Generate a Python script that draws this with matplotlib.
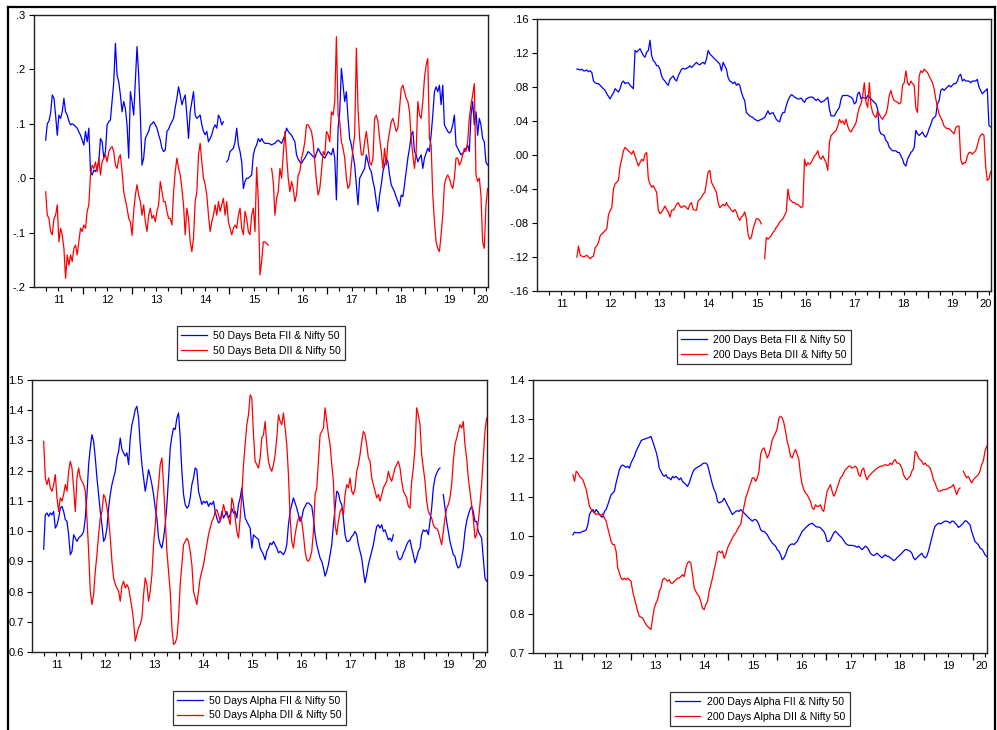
import numpy as np
import matplotlib
matplotlib.use("Agg")
import matplotlib.pyplot as plt
from matplotlib.lines import Line2D

plt.rcParams['font.family'] = ['Liberation Sans', 'DejaVu Sans']

nan = np.nan

# ---- time sampling of the rolling-window series (decimal years, ~12 day spacing)
t50_start = 2011.238
t200_start = 2011.816
t_step = 0.034

# ---- 50 days beta
fii_beta50 = [
    0.07, 0.10, 0.105, 0.12, 0.153, 0.147, 0.116, 0.079, 0.116, 0.11, 0.122, 0.147, 0.122, 0.116, 0.105, 0.098,
    0.10, 0.098, 0.095, 0.092, 0.085, 0.079, 0.07, 0.061, 0.086, 0.067, 0.092, 0.012, 0.006, 0.015, 0.012, 0.02,
    0.03, 0.073, 0.067, 0.037, 0.049, 0.098, 0.104, 0.107, 0.141, 0.177, 0.248, 0.19, 0.177, 0.153, 0.122, 0.141,
    0.128, 0.098, 0.037, 0.159, 0.141, 0.116, 0.177, 0.242, 0.19, 0.116, 0.024, 0.037, 0.073, 0.08, 0.086, 0.098,
    0.10, 0.104, 0.098, 0.092, 0.08, 0.07, 0.055, 0.049, 0.052, 0.086, 0.09, 0.098, 0.104, 0.11, 0.13, 0.147,
    0.168, 0.153, 0.135, 0.145, 0.153, 0.116, 0.073, 0.122, 0.14, 0.159, 0.116, 0.11, 0.113, 0.116, 0.098, 0.086,
    0.08, 0.086, 0.067, 0.073, 0.08, 0.092, 0.098, 0.092, 0.116, 0.11, 0.098, 0.104, nan, 0.03, 0.035, 0.049,
    0.052, 0.055, 0.067, 0.092, 0.061, 0.049, 0.03, -0.019, -0.006, 0.0, 0.0, 0.003, 0.006, 0.043, 0.055, 0.061,
    0.073,
    0.067, 0.073, 0.067, 0.064, 0.064, 0.064, 0.063, 0.061, 0.063, 0.064, 0.068, 0.07, 0.067, 0.064, 0.072, 0.079,
    0.092, 0.086, 0.082, 0.079, 0.073, 0.067, 0.043, 0.035, 0.03, 0.027, 0.033, 0.037, 0.043, 0.049, 0.046, 0.043,
    0.04, 0.037, 0.046, 0.055, 0.049, 0.043, 0.04, 0.037, 0.043, 0.049, 0.046, 0.043, 0.055, 0.037, -0.04, 0.092,
    0.122, 0.202, 0.171, 0.141, 0.159, 0.11, 0.073, 0.061, 0.043, 0.024, -0.012, -0.049, 0.0, 0.006, 0.012, 0.018,
    0.043, 0.03, 0.018, 0.012, -0.006, -0.019, -0.043, -0.061, -0.031, -0.012, 0.012, 0.024, 0.037, 0.03, 0.006, -0.012,
    -0.019, -0.025, -0.035, -0.043, -0.052, -0.031, -0.034, -0.012, 0.012, 0.037, 0.055, 0.079, 0.086, 0.049, 0.043, 0.03,
    0.037, 0.043, 0.018, 0.037, 0.046, 0.055, 0.049, 0.079, 0.116, 0.159, 0.168, 0.159, 0.171, 0.135, 0.171, 0.098,
    0.092, 0.086, 0.083, 0.086, 0.098, 0.116, 0.061, 0.055, 0.049, 0.043, 0.046, 0.049, 0.055, 0.061, 0.049, 0.116,
    0.141, 0.098, 0.122, 0.079, 0.11, 0.098, 0.073, 0.067, 0.03, 0.024,
]
dii_beta50 = [
    -0.025, -0.068, -0.074, -0.098, -0.104, -0.074, -0.068, -0.049, -0.117, -0.092, -0.104, -0.129, -0.184, -0.141, -0.16, -0.141,
    -0.153, -0.129, -0.123, -0.141, -0.117, -0.092, -0.098, -0.086, -0.092, -0.061, -0.049, 0.006, 0.024, 0.018, 0.03, 0.012,
    0.037, 0.006, 0.03, 0.037, 0.043, 0.03, 0.049, 0.055, 0.058, 0.049, 0.024, 0.018, 0.037, 0.043, 0.012, -0.025,
    -0.04, -0.055, -0.074, -0.08, -0.105, -0.061, -0.031, -0.012, -0.031, -0.043, -0.068, -0.049, -0.08, -0.098, -0.068, -0.055,
    -0.074, -0.068, -0.08, -0.061, -0.049, -0.006, -0.025, -0.043, -0.043, -0.061, -0.074, -0.074, -0.086, -0.025, 0.012, 0.037,
    0.018, 0.006, -0.019, -0.049, -0.104, -0.055, -0.074, -0.117, -0.135, -0.11, -0.043, -0.025, 0.043, 0.064, 0.03, 0.0,
    -0.012, -0.031, -0.068, -0.098, -0.08, -0.068, -0.049, -0.068, -0.043, -0.061, -0.049, -0.037, -0.068, -0.043, -0.08, -0.092,
    -0.104, -0.092, -0.086, -0.092, -0.068, -0.055, -0.092, -0.104, -0.061, -0.074, -0.098, -0.104, -0.068, -0.055, -0.098, 0.02,
    -0.04,
    -0.178, -0.153, -0.117, -0.117, -0.12, -0.123, nan, 0.018, -0.006, -0.068, -0.037, -0.025, 0.018, 0.0, 0.043, 0.086,
    0.043, 0.0, -0.025, -0.006, -0.019, -0.043, -0.03, 0.006, 0.012, 0.037, 0.049, 0.067, 0.098, 0.098, 0.092, 0.086,
    0.067, 0.03, -0.006, -0.031, -0.019, 0.012, 0.049, 0.043, 0.086, 0.08, 0.067, 0.122, 0.116, 0.141, 0.26, 0.116,
    0.104, 0.067, 0.055, 0.037, 0.0, -0.019, -0.012, 0.024, 0.055, 0.079, 0.239, 0.128, 0.073, 0.043, 0.043, 0.067,
    0.086, 0.061, 0.03, 0.024, 0.037, 0.11, 0.116, 0.104, 0.073, 0.049, 0.018, 0.055, 0.024, 0.067, 0.086, 0.104,
    0.11, 0.098, 0.086, 0.092, 0.128, 0.165, 0.171, 0.159, 0.147, 0.141, 0.122, 0.073, 0.043, 0.018, 0.049, 0.141,
    0.116, 0.11, 0.141, 0.184, 0.208, 0.22, 0.073, 0.061, -0.031, -0.08, -0.117, -0.129, -0.135, -0.104, -0.068, -0.012,
    0.0, 0.006, 0.0, -0.012, -0.019, 0.0, 0.037, 0.037, 0.024, 0.03, 0.043, 0.055, 0.049, 0.067, 0.11, 0.135,
    0.153, 0.174, 0.006, -0.006, 0.0, -0.031, -0.117, -0.129, -0.05, -0.019,
]

# ---- 200 days beta
fii_beta200 = [
    0.101, 0.101, 0.10, 0.101, 0.099, 0.099, 0.10, 0.098, 0.099, 0.097, 0.087, 0.085, 0.084, 0.084, 0.082, 0.08,
    0.078, 0.076, 0.072, 0.069, 0.066, 0.07, 0.073, 0.078, 0.076, 0.074, 0.078, 0.085, 0.087, 0.084, 0.085, 0.085,
    0.082, 0.08, 0.078, 0.123, 0.121, 0.123, 0.125, 0.121, 0.117, 0.115, 0.121, 0.123, 0.135, 0.117, 0.111, 0.109,
    0.105, 0.105, 0.101, 0.093, 0.089, 0.087, 0.084, 0.082, 0.089, 0.091, 0.093, 0.089, 0.087, 0.093, 0.097, 0.101,
    0.102, 0.101, 0.102, 0.103, 0.105, 0.103, 0.105, 0.107, 0.109, 0.107, 0.106, 0.108, 0.109, 0.107, 0.113, 0.123,
    0.119, 0.117, 0.115, 0.113, 0.111, 0.109, 0.107, 0.099, 0.109, 0.105, 0.101, 0.091, 0.087, 0.086, 0.084, 0.086,
    0.082, 0.084, 0.082, 0.074, 0.068, 0.064, 0.05, 0.048, 0.046, 0.045, 0.044, 0.042, 0.041, 0.04, 0.041, 0.042,
    0.043, 0.044, 0.048, 0.052, 0.048, 0.049, 0.05, 0.046, 0.042, 0.04, 0.039, 0.046, 0.05, 0.05, 0.058, 0.064,
    0.068, 0.071, 0.07, 0.068, 0.067, 0.066, 0.066, 0.067, 0.064, 0.062, 0.066, 0.067, 0.068, 0.068, 0.068, 0.066,
    0.064, 0.066, 0.064, 0.062, 0.063, 0.064, 0.066, 0.068, 0.054, 0.046, 0.046, 0.046, 0.05, 0.053, 0.056, 0.066,
    0.07, 0.07, 0.07, 0.07, 0.069, 0.068, 0.066, 0.06, 0.062, 0.072, 0.074, 0.066, 0.068, 0.067, 0.066, 0.07,
    0.068, 0.066, 0.064, 0.062, 0.06, 0.054, 0.029, 0.025, 0.024, 0.023, 0.017, 0.015, 0.009, 0.007, 0.005, 0.005,
    0.005, 0.003, 0.003, -0.001, -0.005, -0.011, -0.013, -0.005, -0.001, 0.003, 0.005, 0.009, 0.029, 0.025, 0.023, 0.025,
    0.027, 0.023, 0.021, 0.025, 0.031, 0.036, 0.042, 0.044, 0.046, 0.06, 0.064, 0.076, 0.078, 0.076, 0.078, 0.08,
    0.082, 0.08, 0.082, 0.084, 0.084, 0.087, 0.093, 0.095, 0.087, 0.089, 0.087, 0.087, 0.087, 0.085, 0.087, 0.087,
    0.087, 0.089, 0.08, 0.076, 0.072, 0.074, 0.076, 0.078, 0.035, 0.033,
]
dii_beta200 = [
    -0.12, -0.107, -0.118, -0.119, -0.12, -0.119, -0.118, -0.12, -0.122, -0.12, -0.119, -0.109, -0.107, -0.103, -0.095, -0.093,
    -0.091, -0.089, -0.087, -0.071, -0.065, -0.062, -0.04, -0.034, -0.032, -0.03, -0.013, -0.005, 0.005, 0.009, 0.007, 0.005,
    0.003, 0.001, 0.005, -0.001, -0.007, -0.013, -0.009, -0.005, -0.007, 0.001, 0.003, -0.028, -0.034, -0.038, -0.036, -0.04,
    -0.044, -0.065, -0.069, -0.067, -0.064, -0.06, -0.064, -0.067, -0.073, -0.065, -0.065, -0.062, -0.058, -0.056, -0.06, -0.062,
    -0.06, -0.06, -0.062, -0.064, -0.058, -0.056, -0.064, -0.065, -0.065, -0.054, -0.052, -0.05, -0.046, -0.044, -0.032, -0.02,
    -0.018, -0.032, -0.036, -0.04, -0.044, -0.056, -0.062, -0.06, -0.058, -0.06, -0.056, -0.06, -0.062, -0.065, -0.067, -0.064,
    -0.067, -0.073, -0.077, -0.073, -0.071, -0.067, -0.075, -0.093, -0.099, -0.097, -0.087, -0.081, -0.075, -0.075, -0.077, -0.081,
    nan, -0.122, -0.097, -0.099, -0.097, -0.095, -0.091, -0.089, -0.085, -0.083, -0.079, -0.077, -0.075, -0.071, -0.067, -0.04,
    -0.052, -0.054, -0.056, -0.056, -0.058, -0.058, -0.06, -0.062, -0.06, -0.005, -0.013, -0.009, -0.011, -0.009, -0.005, -0.001,
    0.001, 0.005, -0.003, -0.005, -0.001, -0.005, -0.009, -0.018, 0.015, 0.023, 0.025, 0.027, 0.029, 0.034, 0.042, 0.038,
    0.04, 0.036, 0.042, 0.034, 0.029, 0.027, 0.031, 0.034, 0.038, 0.048, 0.056, 0.06, 0.07, 0.085, 0.062, 0.056,
    0.085, 0.058, 0.05, 0.046, 0.044, 0.052, 0.048, 0.044, 0.042, 0.046, 0.048, 0.056, 0.07, 0.076, 0.068, 0.064,
    0.063, 0.062, 0.06, 0.062, 0.082, 0.085, 0.099, 0.085, 0.082, 0.087, 0.084, 0.082, 0.055, 0.05, 0.093, 0.099,
    0.097, 0.101, 0.099, 0.097, 0.093, 0.089, 0.085, 0.078, 0.066, 0.056, 0.048, 0.044, 0.04, 0.034, 0.032, 0.031,
    0.031, 0.029, 0.027, 0.025, 0.032, 0.034, 0.034, -0.005, -0.011, -0.009, -0.009, -0.001, 0.003, 0.003, 0.001, 0.003,
    0.005, 0.011, 0.019, 0.023, 0.025, 0.023, -0.013, -0.03, -0.028, -0.02,
]

# ---- 50 days alpha
fii_alpha50 = [
    0.94, 1.054, 1.06, 1.049, 1.06, 1.054, 1.065, 1.01, 1.02, 1.043, 1.076, 1.082, 1.065, 1.038, 1.032, 0.988,
    0.922, 0.933, 0.988, 0.977, 0.966, 0.977, 0.982, 0.988, 0.999, 1.043, 1.121, 1.22, 1.275, 1.319, 1.297, 1.242,
    1.176, 1.121, 1.065, 1.021, 0.966, 0.977, 1.01, 1.076, 1.121, 1.154, 1.176, 1.198, 1.242, 1.264, 1.308, 1.27,
    1.259, 1.248, 1.259, 1.22, 1.308, 1.352, 1.374, 1.402, 1.413, 1.374, 1.286, 1.22, 1.176, 1.132, 1.165, 1.203,
    1.181, 1.154, 1.121, 1.076, 1.043, 0.977, 0.955, 0.944, 0.977, 1.021, 1.088, 1.176, 1.275, 1.314, 1.341, 1.336,
    1.374, 1.391, 1.308, 1.198, 1.121, 1.088, 1.076, 1.082, 1.11, 1.154, 1.176, 1.209, 1.203, 1.132, 1.11, 1.088,
    1.099, 1.093, 1.099, 1.082, 1.093, 1.088, 1.099, 1.065, 1.043, 1.027, 1.032, 1.065, 1.043, 1.054, 1.065, 1.043,
    1.054, 1.076, 1.06, 1.065, 1.043, 1.088, 1.11, 1.143, 1.088, 1.043, 1.032, 1.021, 1.01, 0.944, 0.988, 0.982,
    0.977,
    0.972, 0.944, 0.933, 0.922, 0.905, 0.933, 0.944, 0.961, 0.955, 0.966, 0.955, 0.944, 0.928, 0.933, 0.928, 0.922,
    0.933, 0.955, 1.021, 1.065, 1.088, 1.11, 1.093, 1.076, 1.054, 1.032, 1.043, 1.071, 1.082, 1.093, 1.093, 1.088,
    1.082, 1.043, 0.988, 0.955, 0.933, 0.911, 0.9, 0.878, 0.851, 0.867, 0.889, 0.922, 0.955, 1.021, 1.076, 1.132,
    1.126, 1.099, 1.088, 1.043, 0.988, 0.966, 0.966, 0.971, 0.982, 0.988, 0.999, 0.988, 0.955, 0.933, 0.911, 0.867,
    0.829, 0.856, 0.889, 0.911, 0.933, 0.955, 0.988, 1.015, 1.021, 1.01, 1.021, 0.999, 1.004, 0.988, 0.971, 0.977,
    0.966, 0.988, nan, 0.933, 0.911, 0.905, 0.911, 0.928, 0.939, 0.955, 0.966, 0.971, 0.944, 0.922, 0.895, 0.911,
    0.933, 0.944, 0.988, 1.004, 0.999, 1.004, 0.988, 1.032, 1.076, 1.143, 1.176, 1.192, 1.203, 1.209, nan, 1.121,
    1.076, 1.032, 0.999, 0.966, 0.944, 0.922, 0.917, 0.889, 0.878, 0.883, 0.911, 0.944, 0.999, 1.032, 1.054, 1.071,
    1.082, 1.065, 1.032, 1.032, 0.999, 0.988, 0.977, 0.911, 0.845, 0.834,
]
dii_alpha50 = [
    1.297, 1.176, 1.154, 1.176, 1.143, 1.132, 1.154, 1.187, 1.11, 1.065, 1.11, 1.099, 1.121, 1.154, 1.132, 1.198,
    1.231, 1.209, 1.143, 1.065, 1.176, 1.209, 1.176, 1.165, 1.154, 1.132, 1.043, 0.933, 0.801, 0.757, 0.79, 0.867,
    0.922, 0.988, 1.043, 1.065, 1.121, 1.11, 1.076, 1.043, 0.977, 0.9, 0.845, 0.823, 0.812, 0.801, 0.768, 0.818,
    0.834, 0.812, 0.823, 0.812, 0.779, 0.746, 0.702, 0.636, 0.658, 0.68, 0.691, 0.713, 0.79, 0.845, 0.823, 0.768,
    0.801, 0.856, 0.955, 1.021, 1.099, 1.154, 1.22, 1.242, 1.154, 1.043, 0.933, 0.867, 0.801, 0.68, 0.625, 0.63,
    0.647, 0.713, 0.823, 0.889, 0.955, 0.966, 0.977, 0.966, 0.933, 0.889, 0.801, 0.779, 0.757, 0.801, 0.845, 0.867,
    0.889, 0.922, 0.955, 0.988, 1.01, 1.032, 1.043, 1.065, 1.071, 1.054, 1.032, 1.054, 1.088, 1.065, 1.054, 1.043,
    1.021, 1.11, 1.088, 1.043, 0.999, 0.977, 1.043, 1.121, 1.22, 1.286, 1.352, 1.385, 1.451, 1.44, 1.319, 1.231,
    1.22,
    1.209, 1.242, 1.308, 1.319, 1.363, 1.286, 1.231, 1.209, 1.198, 1.22, 1.253, 1.308, 1.385, 1.363, 1.352, 1.391,
    1.341, 1.286, 1.187, 1.043, 0.966, 0.944, 0.988, 1.021, 1.043, 1.048, 1.032, 0.988, 0.933, 0.905, 0.9, 0.911,
    0.933, 0.999, 1.121, 1.143, 1.231, 1.319, 1.33, 1.341, 1.408, 1.363, 1.319, 1.286, 1.22, 1.165, 1.021, 0.988,
    1.032, 1.065, 1.076, 1.054, 1.121, 1.154, 1.143, 1.176, 1.132, 1.121, 1.143, 1.198, 1.22, 1.253, 1.297, 1.33,
    1.319, 1.286, 1.242, 1.231, 1.176, 1.154, 1.132, 1.11, 1.121, 1.099, 1.121, 1.143, 1.154, 1.165, 1.198, 1.176,
    1.165, 1.187, 1.209, 1.22, 1.231, 1.209, 1.165, 1.132, 1.121, 1.11, 1.082, 1.076, 1.165, 1.209, 1.275, 1.408,
    1.385, 1.352, 1.253, 1.209, 1.165, 1.099, 1.065, 1.054, 1.043, 1.021, 1.01, 1.01, 0.999, 0.977, 0.955, 0.999,
    1.043, 1.076, 1.088, 1.11, 1.154, 1.231, 1.286, 1.308, 1.33, 1.352, 1.341, 1.363, 1.286, 1.242, 1.176, 1.132,
    1.088, 1.043, 0.977, 0.988, 1.032, 1.088, 1.154, 1.242, 1.33, 1.374,
]

# ---- 200 days alpha
fii_alpha200 = [
    1.003, 1.01, 1.008, 1.009, 1.008, 1.01, 1.012, 1.013, 1.016, 1.029, 1.055, 1.063, 1.068, 1.059, 1.068, 1.063,
    1.055, 1.05, 1.048, 1.063, 1.068, 1.08, 1.093, 1.106, 1.11, 1.115, 1.136, 1.153, 1.17, 1.179, 1.182, 1.179,
    1.176, 1.179, 1.174, 1.187, 1.196, 1.204, 1.217, 1.226, 1.234, 1.244, 1.247, 1.248, 1.25, 1.251, 1.253, 1.255,
    1.243, 1.23, 1.217, 1.2, 1.174, 1.166, 1.157, 1.153, 1.157, 1.149, 1.149, 1.144, 1.153, 1.149, 1.153, 1.149,
    1.144, 1.149, 1.14, 1.136, 1.132, 1.127, 1.136, 1.149, 1.162, 1.17, 1.174, 1.176, 1.179, 1.181, 1.185, 1.187,
    1.187, 1.183, 1.166, 1.149, 1.132, 1.119, 1.11, 1.089, 1.085, 1.087, 1.089, 1.097, 1.089, 1.08, 1.072, 1.063,
    1.055, 1.059, 1.063, 1.065, 1.063, 1.068, 1.063, 1.059, 1.055, 1.05, 1.046, 1.042, 1.038, 1.042, 1.042, 1.038,
    1.029, 1.016, 1.012, 1.012, 1.008, 1.003, 0.995, 0.988, 0.982, 0.978, 0.974, 0.965, 0.961, 0.952, 0.939, 0.944,
    0.952, 0.965, 0.974, 0.978, 0.98, 0.978, 0.982, 0.986, 0.995, 1.003, 1.012, 1.016, 1.021, 1.025, 1.029, 1.031,
    1.033, 1.029, 1.025, 1.023, 1.023, 1.021, 1.016, 1.012, 1.003, 0.986, 0.986, 0.99, 0.999, 1.008, 1.012, 1.008,
    1.003, 0.999, 0.995, 0.988, 0.982, 0.978, 0.976, 0.976, 0.976, 0.975, 0.974, 0.971, 0.974, 0.969, 0.965, 0.969,
    0.974, 0.971, 0.965, 0.956, 0.952, 0.95, 0.952, 0.956, 0.952, 0.948, 0.944, 0.948, 0.952, 0.948, 0.948, 0.944,
    0.941, 0.937, 0.939, 0.944, 0.948, 0.952, 0.956, 0.961, 0.965, 0.965, 0.963, 0.961, 0.956, 0.944, 0.939, 0.944,
    0.948, 0.952, 0.956, 0.948, 0.944, 0.948, 0.961, 0.978, 0.995, 1.012, 1.025, 1.029, 1.033, 1.031, 1.033, 1.036,
    1.038, 1.038, 1.036, 1.033, 1.038, 1.038, 1.033, 1.029, 1.022, 1.025, 1.029, 1.033, 1.039, 1.038, 1.033, 1.029,
    1.012, 0.999, 0.986, 0.982, 0.978, 0.969, 0.967, 0.961, 0.952, 0.948,
]
dii_alpha200 = [
    1.157, 1.14, 1.166, 1.162, 1.153, 1.149, 1.144, 1.132, 1.119, 1.097, 1.076, 1.068, 1.063, 1.059, 1.055, 1.057,
    1.055, 1.053, 1.057, 1.046, 1.038, 1.021, 1.003, 0.986, 0.978, 0.978, 0.961, 0.918, 0.905, 0.892, 0.888, 0.892,
    0.888, 0.892, 0.888, 0.884, 0.858, 0.841, 0.824, 0.807, 0.794, 0.792, 0.79, 0.781, 0.773, 0.768, 0.764, 0.76,
    0.79, 0.815, 0.828, 0.837, 0.858, 0.867, 0.888, 0.892, 0.888, 0.884, 0.888, 0.879, 0.879, 0.884, 0.888, 0.892,
    0.892, 0.896, 0.901, 0.896, 0.918, 0.931, 0.935, 0.931, 0.901, 0.867, 0.858, 0.85, 0.845, 0.832, 0.815, 0.811,
    0.824, 0.832, 0.858, 0.875, 0.892, 0.914, 0.931, 0.957, 0.961, 0.957, 0.961, 0.943, 0.952, 0.969, 0.978, 0.986,
    0.995, 1.003, 1.008, 1.016, 1.025, 1.029, 1.055, 1.076, 1.097, 1.11, 1.123, 1.136, 1.149, 1.149, 1.14, 1.149,
    1.166, 1.209, 1.222, 1.226, 1.213, 1.2, 1.209, 1.226, 1.247, 1.256, 1.264, 1.277, 1.303, 1.307, 1.303, 1.29,
    1.268, 1.243, 1.226, 1.204, 1.2, 1.213, 1.222, 1.209, 1.196, 1.157, 1.132, 1.119, 1.11, 1.106, 1.097, 1.089,
    1.072, 1.068, 1.08, 1.076, 1.076, 1.08, 1.068, 1.063, 1.089, 1.115, 1.123, 1.132, 1.115, 1.102, 1.11, 1.123,
    1.136, 1.149, 1.153, 1.162, 1.17, 1.174, 1.179, 1.179, 1.174, 1.176, 1.179, 1.174, 1.157, 1.153, 1.17, 1.174,
    1.157, 1.144, 1.153, 1.157, 1.162, 1.166, 1.17, 1.174, 1.176, 1.179, 1.179, 1.181, 1.183, 1.181, 1.181, 1.187,
    1.183, 1.192, 1.196, 1.187, 1.187, 1.183, 1.174, 1.157, 1.149, 1.144, 1.149, 1.153, 1.166, 1.174, 1.217, 1.213,
    1.2, 1.196, 1.192, 1.183, 1.187, 1.181, 1.179, 1.174, 1.162, 1.144, 1.136, 1.123, 1.115, 1.115, 1.117, 1.119,
    1.119, 1.12, 1.123, 1.124, 1.127, 1.132, 1.119, 1.106, 1.119, 1.123, nan, 1.166, 1.157, 1.149, 1.153, 1.144,
    1.136, 1.144, 1.149, 1.153, 1.157, 1.166, 1.183, 1.192, 1.217, 1.23,
]

# ---- axes texts
year_labels = ['11', '12', '13', '14', '15', '16', '17', '18', '19', '20']
year_label_pos = [2011.5, 2012.5, 2013.5, 2014.5, 2015.5, 2016.5, 2017.5, 2018.5, 2019.5, 2020.17]
x_limits = (2011.0, 2020.29)

panels = [
    dict(fii=fii_beta50, dii=dii_beta50, start=t50_start,
         yticks=[-0.2, -0.1, 0.0, 0.1, 0.2, 0.3], ylabels=['-.2', '-.1', '.0', '.1', '.2', '.3'],
         names=['50 Days Beta FII & Nifty 50', '50 Days Beta DII & Nifty 50']),
    dict(fii=fii_beta200, dii=dii_beta200, start=t200_start,
         yticks=[-0.16, -0.12, -0.08, -0.04, 0.0, 0.04, 0.08, 0.12, 0.16],
         ylabels=['-.16', '-.12', '-.08', '-.04', '.00', '.04', '.08', '.12', '.16'],
         names=['200 Days Beta FII & Nifty 50', '200 Days Beta DII & Nifty 50']),
    dict(fii=fii_alpha50, dii=dii_alpha50, start=t50_start,
         yticks=[0.6, 0.7, 0.8, 0.9, 1.0, 1.1, 1.2, 1.3, 1.4, 1.5],
         ylabels=['0.6', '0.7', '0.8', '0.9', '1.0', '1.1', '1.2', '1.3', '1.4', '1.5'],
         names=['50 Days Alpha FII & Nifty 50', '50 Days Alpha DII & Nifty 50']),
    dict(fii=fii_alpha200, dii=dii_alpha200, start=t200_start,
         yticks=[0.7, 0.8, 0.9, 1.0, 1.1, 1.2, 1.3, 1.4],
         ylabels=['0.7', '0.8', '0.9', '1.0', '1.1', '1.2', '1.3', '1.4'],
         names=['200 Days Alpha FII & Nifty 50', '200 Days Alpha DII & Nifty 50']),
]

W, H = 997, 730
fig = plt.figure(figsize=(W / 100, H / 100), dpi=100)

# pixel boxes of plot areas (left, top, right, bottom) and legend tops
boxes = [(34, 15, 488, 287), (537, 19, 991, 291), (32, 380, 487, 652), (533, 380, 987, 653)]
legend_tops = [326, 330, 691, 692]

FS_TICK = 8.0
FS_LEG = 7.6
for p, (l, t, r, b), lt in zip(panels, boxes, legend_tops):
    ax = fig.add_axes([l / W, 1 - b / H, (r - l) / W, (b - t) / H])
    tf = p['start'] + t_step * np.arange(len(p['fii']))
    td = p['start'] + t_step * np.arange(len(p['dii']))
    ax.plot(tf, np.array(p['fii'], dtype=float), color='#0000FF', lw=0.9, label=p['names'][0])
    ax.plot(td, np.array(p['dii'], dtype=float), color='#FF0000', lw=0.9, label=p['names'][1])
    ax.set_xlim(*x_limits)
    ax.set_ylim(p['yticks'][0], p['yticks'][-1])
    ax.set_yticks(p['yticks'])
    ax.set_yticklabels(p['ylabels'])
    ax.set_xticks(np.arange(2012, 2021))
    ax.set_xticklabels([])
    ax.set_xticks(np.arange(2011.25, 2020.3, 0.25), minor=True)
    ax.tick_params(axis='x', which='major', direction='out', length=5, width=0.9, color='black')
    ax.tick_params(axis='x', which='minor', direction='out', length=2.8, width=0.8, color='black')
    ax.tick_params(axis='y', which='major', direction='out', length=3.5, width=0.8, pad=2.5,
                   labelsize=FS_TICK, colors='black')
    for s in ax.spines.values():
        s.set_linewidth(1.0)
        s.set_color('#222222')
    sec = ax.secondary_xaxis('bottom')
    sec.set_xticks(year_label_pos)
    sec.set_xticklabels(year_labels)
    sec.tick_params(length=0, pad=5.5, labelsize=FS_TICK)
    sec.spines['bottom'].set_visible(False)

    leg = ax.legend(loc='upper center', bbox_to_anchor=(((l + r) / 2) / W, 1 - lt / H),
                    bbox_transform=fig.transFigure, borderaxespad=0, fontsize=FS_LEG,
                    frameon=True, fancybox=False, framealpha=1, edgecolor='#333333',
                    handlelength=2.4, handletextpad=0.6, borderpad=0.45, labelspacing=0.45)
    leg.get_frame().set_linewidth(0.9)

# outer frame
lw = 1.6
fig.add_artist(Line2D([8 / W, 8 / W], [0, 1 - 7 / H], transform=fig.transFigure, color='black', lw=lw))
fig.add_artist(Line2D([8 / W, 995 / W], [1 - 7 / H, 1 - 7 / H], transform=fig.transFigure, color='black', lw=lw))
fig.add_artist(Line2D([995 / W, 995 / W], [0, 1 - 7 / H], transform=fig.transFigure, color='black', lw=lw))

fig.savefig('out.png', dpi=100)
